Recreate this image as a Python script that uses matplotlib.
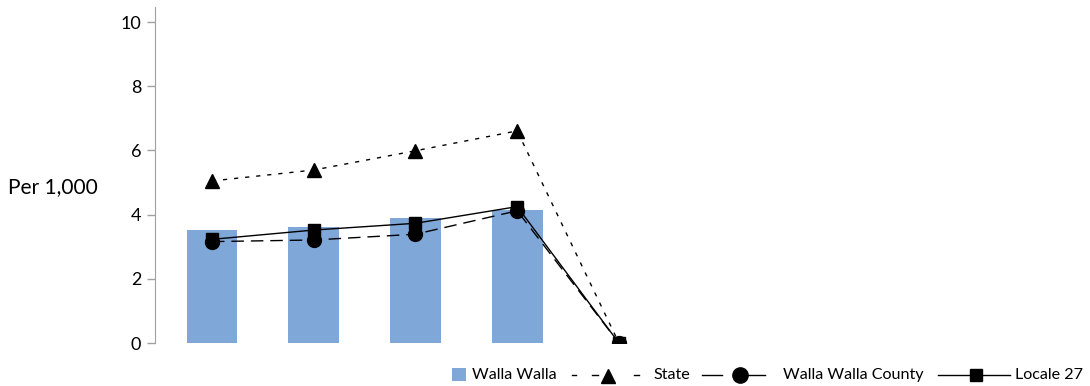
import matplotlib
matplotlib.use("Agg")
import matplotlib.pyplot as plt

plt.rcParams['font.family'] = ['Lato', 'DejaVu Sans']

categories = ["1", "2", "3", "4", "5"]
walla_walla = [3.52, 3.60, 3.89, 4.14, 0.0]
state = [5.05, 5.39, 5.99, 6.61, 0.0]
county = [3.16, 3.21, 3.39, 4.12, 0.0]
locale27 = [3.23, 3.52, 3.73, 4.25, 0.0]
yticks = [0, 2, 4, 6, 8, 10]
legend_labels = ["Walla Walla", "State", "Walla Walla County", "Locale 27"]

BAR = "#7fa7d8"
W, H = 1090, 386

fig = plt.figure(figsize=(W / 100, H / 100), dpi=100)
ax = fig.add_axes([155 / W, 43 / H, 0.855, 336 / H])

x = list(range(len(categories)))
ax.bar(x, walla_walla, width=0.5, color=BAR, zorder=1)
ax.plot(x, state, color="black", lw=1, dashes=(3, 5), marker="^", ms=10, zorder=3)
ax.plot(x, county, color="black", lw=1, dashes=(9, 5), marker="o", ms=10, zorder=3)
ax.plot(x, locale27, color="black", lw=1, ls="-", marker="s", ms=9, zorder=3)

ax.set_xlim(-0.56, 8.6)
ax.set_ylim(0, 10.47)
ax.set_yticks(yticks)
ax.set_yticklabels([str(v) for v in yticks], fontsize=13)
ax.set_xticks([])
for s in ["top", "right", "bottom"]:
    ax.spines[s].set_visible(False)
ax.spines["left"].set_color("#a0a0a0")
ax.tick_params(axis="y", color="#a0a0a0", length=6, width=1, pad=4)

fig.text(8 / W, 1 - 187 / H, "Per 1,000", fontsize=15, va="center", ha="left")

# legend drawn in an overlay in pixel coordinates
lg = fig.add_axes([0, 0, 1, 1], facecolor="none")
lg.set_xlim(0, W)
lg.set_ylim(H, 0)
lg.axis("off")
yc = 375
fs = 11.6
lg.add_patch(plt.Rectangle((452, 368), 14, 13, facecolor=BAR, edgecolor="none"))
lg.text(472, yc, legend_labels[0], fontsize=fs, va="center", ha="left")
for x0, x1 in [(572, 576), (592, 598), (634, 639)]:
    lg.plot([x0, x1], [yc, yc], color="black", lw=1)
lg.plot([608], [yc + 1], marker="^", ms=10, color="black")
lg.text(653, yc, legend_labels[1], fontsize=fs, va="center", ha="left")
lg.plot([702, 722], [yc, yc], color="black", lw=1)
lg.plot([747, 765], [yc, yc], color="black", lw=1)
lg.plot([740], [yc], marker="o", ms=11, color="black")
lg.text(783, yc, legend_labels[2], fontsize=fs, va="center", ha="left")
lg.plot([938, 1010], [yc, yc], color="black", lw=1)
lg.plot([976], [yc], marker="s", ms=9, color="black")
lg.text(1015, yc, legend_labels[3], fontsize=fs, va="center", ha="left")

fig.savefig("out.png", dpi=100)
